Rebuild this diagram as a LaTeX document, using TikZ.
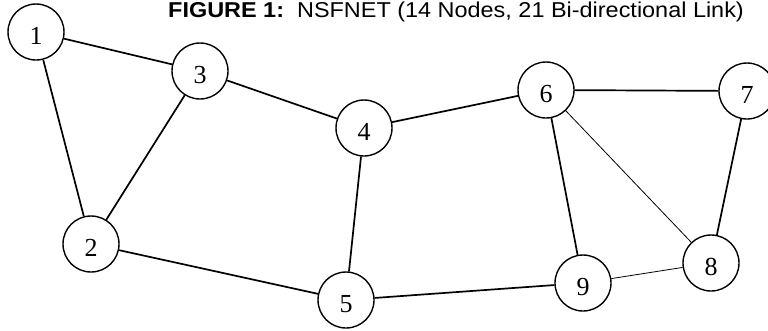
\documentclass[tikz,border=0pt]{standalone}
\usepackage{fontspec}
\setmainfont{Liberation Serif}
\newfontfamily\titlefont{Liberation Sans}
\begin{document}
\begin{tikzpicture}[x=1pt,y=-1pt,
  netnode/.style={circle,draw,line width=1.4pt,minimum size=56pt,inner sep=0pt,
    text height=25pt,text depth=0pt,font=\fontsize{26}{26}\selectfont},
  link/.style={line width=1.7pt},
  thinlink/.style={line width=0.8pt}]
\useasboundingbox (0,0) rectangle (768,330);
\node[netnode] (n1) at (36,32) {1};
\node[netnode] (n3) at (200,71) {3};
\node[netnode] (n2) at (91,244) {2};
\node[netnode] (n4) at (364,128) {4};
\node[netnode] (n5) at (346,300) {5};
\node[netnode] (n6) at (546,90) {6};
\node[netnode] (n7) at (747,91) {7};
\node[netnode] (n8) at (711,263) {8};
\node[netnode] (n9) at (583,283) {9};
\node[anchor=base west,inner sep=0pt,xscale=1.09,font=\titlefont\fontsize{21.5}{21.5}\selectfont] (title) at (168,17) {\textbf{FIGURE 1:}\ \ NSFNET (14 Nodes, 21 Bi-directional Link)};
\draw[link] (n1) -- (n3);
\draw[link] (n1) -- (n2);
\draw[link] (n3) -- (n2);
\draw[link] (n3) -- (n4);
\draw[link] (n4) -- (n6);
\draw[link] (n4) -- (n5);
\draw[link] (n2) -- (n5);
\draw[link] (n5) -- (n9);
\draw[link] (n6) -- (n7);
\draw[link] (n6) -- (n9);
\draw[link] (n7) -- (n8);
\draw[thinlink] (n6) -- (n8);
\draw[thinlink] (n9) -- (n8);
\end{tikzpicture}
\end{document}
